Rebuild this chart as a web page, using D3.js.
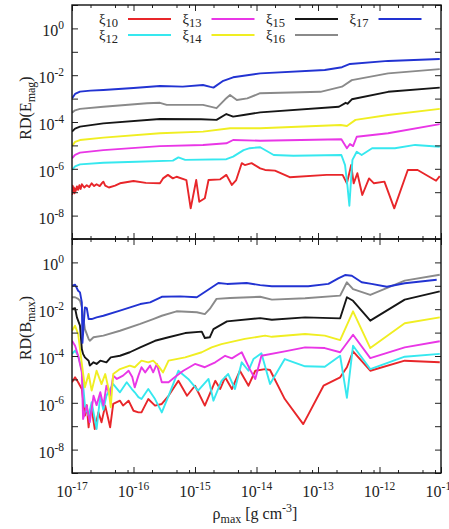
<!DOCTYPE html>
<html>
<head>
<meta charset="utf-8">
<script src="https://cdn.jsdelivr.net/npm/d3@7"></script>
<style>
  body { margin: 0; background: #fff; }
  svg { display: block; }
  text { font-family: "Liberation Serif", "DejaVu Serif", serif; fill: #222; }
</style>
</head>
<body>
<svg id="chart"></svg>
<script>
// series labels (subscript of xi) and decades used on the axes
var seriesNames = ["10", "12", "13", "14", "15", "16", "17"];
var xDecades = [-17, -16, -15, -14, -13, -12, -11];
var yDecades = [-9, -8, -7, -6, -5, -4, -3, -2, -1, 0, 1];
var yLabelDecades = [-8, -6, -4, -2, 0];
var xMinorSteps = [2, 5, 8];

// points are [log10(rho_max), log10(RD)]
// top panel: RD(E_mag)
var eMag10 = [[-17.00,-7.12],[-16.99,-6.72],[-16.98,-7.00],[-16.97,-6.80],[-16.96,-7.05],[-16.95,-6.85],[-16.94,-6.95],
  [-16.92,-6.75],[-16.90,-6.90],[-16.88,-6.70],[-16.86,-6.86],[-16.84,-6.66],[-16.80,-6.80],[-16.76,-6.70],[-16.72,-6.78],
  [-16.68,-6.62],[-16.64,-6.74],[-16.60,-6.66],[-16.55,-6.74],[-16.51,-6.60],[-16.49,-6.55],[-16.46,-6.72],[-16.40,-6.80],
  [-16.30,-6.72],[-16.22,-6.62],[-16.00,-6.52],[-15.80,-6.60],[-15.57,-6.62],[-15.52,-6.41],[-15.44,-6.26],[-15.36,-6.41],
  [-15.30,-6.34],[-15.14,-6.48],[-15.07,-7.69],[-14.98,-6.48],[-14.93,-7.41],[-14.84,-7.26],[-14.78,-6.48],[-14.59,-6.45],
  [-14.49,-6.26],[-14.40,-6.69],[-14.33,-6.48],[-14.24,-5.76],[-14.19,-5.84],[-14.08,-5.76],[-13.94,-5.98],[-13.86,-6.05],
  [-13.70,-6.08],[-13.46,-6.36],[-12.86,-6.26],[-12.60,-6.26],[-12.53,-6.62],[-12.46,-5.84],[-12.42,-6.62],[-12.36,-6.19],
  [-12.28,-7.12],[-12.17,-6.41],[-12.09,-6.62],[-11.92,-6.55],[-11.76,-7.69],[-11.54,-6.05],[-11.38,-6.05],[-11.08,-6.51],
  [-11.02,-6.31]];
var eMag12 = [[-17.00,-6.05],[-16.95,-5.90],[-16.87,-5.81],[-16.49,-5.74],[-15.95,-5.70],[-15.36,-5.65],[-15.27,-5.51],
  [-15.16,-5.62],[-14.49,-5.59],[-14.38,-5.48],[-14.21,-5.20],[-14.11,-5.12],[-13.94,-5.08],[-13.72,-5.41],[-13.40,-5.44],
  [-12.62,-5.41],[-12.56,-5.84],[-12.52,-6.76],[-12.49,-7.58],[-12.47,-6.76],[-12.44,-5.62],[-12.37,-5.27],[-12.29,-5.41],
  [-12.12,-5.12],[-11.75,-5.12],[-11.42,-4.98],[-11.02,-5.06]];
var eMag13 = [[-17.00,-5.55],[-16.95,-5.40],[-16.87,-5.31],[-16.49,-5.20],[-15.57,-5.03],[-14.87,-4.98],[-14.49,-4.91],
  [-14.38,-4.77],[-13.94,-4.80],[-12.62,-4.74],[-12.53,-5.12],[-12.48,-4.94],[-12.43,-5.03],[-12.37,-4.63],[-11.86,-4.48],
  [-11.02,-4.09]];
var eMag14 = [[-17.00,-5.03],[-16.95,-4.85],[-16.87,-4.77],[-16.49,-4.67],[-15.57,-4.48],[-14.87,-4.41],[-14.43,-4.27],
  [-13.94,-4.27],[-12.63,-4.13],[-12.53,-4.17],[-12.39,-3.91],[-11.86,-3.70],[-11.02,-3.44]];
var eMag15 = [[-17.00,-4.41],[-16.95,-4.28],[-16.87,-4.20],[-16.49,-4.06],[-15.57,-3.87],[-14.90,-3.88],[-14.65,-3.91],
  [-14.49,-3.66],[-14.38,-3.77],[-14.21,-3.70],[-13.94,-3.59],[-12.66,-3.35],[-12.55,-3.18],[-12.52,-3.22],[-12.45,-3.03],
  [-11.86,-2.71],[-11.02,-2.53]];
var eMag16 = [[-17.00,-3.60],[-16.95,-3.50],[-16.87,-3.44],[-16.49,-3.35],[-15.78,-3.20],[-15.57,-3.18],[-15.46,-3.27],
  [-14.87,-3.27],[-14.65,-3.41],[-14.51,-3.03],[-14.43,-2.85],[-14.32,-3.06],[-14.15,-2.99],[-13.94,-2.77],[-12.96,-2.71],
  [-12.61,-2.49],[-12.45,-2.21],[-11.86,-1.92],[-11.02,-1.74]];
var eMag17 = [[-17.00,-2.99],[-16.95,-2.80],[-16.87,-2.70],[-16.70,-2.66],[-16.49,-2.63],[-16.00,-2.55],[-15.57,-2.46],
  [-15.20,-2.49],[-14.87,-2.42],[-14.75,-2.50],[-14.70,-2.53],[-14.54,-2.24],[-14.38,-2.09],[-13.94,-1.92],[-12.89,-1.78],
  [-12.61,-1.66],[-12.48,-1.52],[-11.86,-1.39],[-11.02,-1.31]];

// bottom panel: RD(B_max)
var bMax10 = [[-17.00,-5.12],[-16.95,-4.91],[-16.90,-5.12],[-16.84,-5.41],[-16.79,-6.55],[-16.76,-6.10],[-16.73,-7.05],
  [-16.71,-6.50],[-16.68,-6.26],[-16.63,-7.12],[-16.57,-6.40],[-16.52,-6.83],[-16.46,-6.12],[-16.41,-6.69],[-16.38,-7.05],
  [-16.33,-6.05],[-16.22,-5.91],[-16.17,-6.12],[-16.08,-5.91],[-16.00,-6.34],[-15.92,-6.41],[-15.87,-6.41],[-15.76,-5.84],
  [-15.65,-6.12],[-15.54,-6.05],[-15.43,-5.70],[-15.27,-5.06],[-15.13,-5.70],[-15.00,-5.27],[-14.84,-6.12],[-14.67,-5.06],
  [-14.59,-5.41],[-14.51,-4.91],[-14.40,-5.41],[-14.27,-4.63],[-14.13,-5.27],[-14.02,-4.63],[-13.86,-4.56],[-13.78,-4.60],
  [-13.54,-5.84],[-13.24,-6.91],[-12.91,-5.27],[-12.64,-4.91],[-12.53,-4.48],[-12.43,-3.80],[-12.15,-4.63],[-11.59,-4.20],
  [-11.02,-4.27]];
var bMax12 = [[-17.00,-3.91],[-16.95,-3.77],[-16.90,-3.99],[-16.84,-4.60],[-16.79,-6.12],[-16.73,-6.55],[-16.68,-5.98],
  [-16.63,-6.69],[-16.60,-7.12],[-16.54,-5.70],[-16.49,-6.30],[-16.44,-5.70],[-16.38,-5.41],[-16.33,-5.20],[-16.22,-5.55],
  [-16.11,-5.12],[-16.03,-5.40],[-15.98,-5.55],[-15.92,-5.76],[-15.87,-5.84],[-15.76,-5.41],[-15.65,-5.84],[-15.54,-6.41],
  [-15.43,-5.70],[-15.27,-4.63],[-15.11,-4.98],[-14.95,-5.48],[-14.78,-4.98],[-14.70,-5.91],[-14.57,-5.06],[-14.46,-4.77],
  [-14.35,-5.41],[-14.24,-4.27],[-14.13,-4.63],[-14.05,-4.13],[-13.92,-3.88],[-13.78,-5.20],[-13.54,-4.13],[-13.21,-4.44],
  [-12.89,-4.46],[-12.64,-3.99],[-12.53,-5.79],[-12.43,-3.56],[-12.15,-4.56],[-11.59,-4.03],[-11.02,-3.91]];
var bMax13 = [[-17.00,-3.35],[-16.95,-3.56],[-16.90,-3.99],[-16.84,-4.70],[-16.82,-6.69],[-16.76,-6.12],[-16.71,-6.83],
  [-16.65,-5.70],[-16.60,-6.10],[-16.54,-5.55],[-16.49,-6.12],[-16.44,-5.27],[-16.38,-5.70],[-16.33,-4.84],[-16.27,-4.98],
  [-16.17,-4.84],[-16.08,-4.63],[-16.02,-4.90],[-15.98,-5.34],[-15.92,-4.84],[-15.87,-4.48],[-15.81,-4.70],[-15.73,-4.41],
  [-15.68,-4.70],[-15.62,-4.34],[-15.54,-5.12],[-15.43,-5.12],[-15.33,-4.91],[-15.19,-4.63],[-15.00,-4.34],[-14.84,-4.48],
  [-14.67,-4.27],[-14.51,-3.99],[-14.40,-4.10],[-14.24,-3.84],[-14.11,-4.56],[-14.02,-4.98],[-13.92,-3.99],[-13.54,-3.80],
  [-13.21,-3.63],[-12.89,-3.66],[-12.64,-3.84],[-12.43,-3.09],[-12.15,-4.09],[-11.59,-3.63],[-11.02,-3.37]];
var bMax14 = [[-17.00,-2.92],[-16.95,-2.71],[-16.90,-3.06],[-16.84,-4.34],[-16.79,-5.34],[-16.73,-4.77],[-16.68,-5.48],
  [-16.60,-4.63],[-16.52,-5.20],[-16.46,-4.77],[-16.41,-5.34],[-16.37,-6.19],[-16.33,-4.77],[-16.22,-4.56],[-16.06,-4.41],
  [-15.98,-4.48],[-15.87,-4.20],[-15.76,-4.27],[-15.68,-4.20],[-15.60,-4.41],[-15.52,-4.70],[-15.43,-4.20],[-15.16,-4.06],
  [-14.89,-3.84],[-14.73,-3.63],[-14.57,-3.49],[-14.19,-3.27],[-13.86,-3.13],[-13.75,-3.18],[-13.21,-3.06],[-12.89,-3.13],
  [-12.64,-3.32],[-12.43,-2.09],[-12.15,-3.66],[-11.59,-2.60],[-11.02,-2.35]];
var bMax15 = [[-17.00,-1.99],[-16.95,-1.96],[-16.92,-2.35],[-16.87,-2.70],[-16.84,-3.70],[-16.82,-3.91],[-16.79,-4.06],
  [-16.73,-4.20],[-16.71,-4.41],[-16.65,-4.27],[-16.60,-4.34],[-16.54,-4.20],[-16.44,-4.27],[-16.37,-4.06],[-16.22,-3.99],
  [-16.06,-3.84],[-15.89,-3.63],[-15.65,-3.35],[-15.43,-3.20],[-15.16,-3.02],[-14.89,-2.96],[-14.84,-3.23],[-14.76,-3.20],
  [-14.70,-2.85],[-14.48,-2.52],[-13.94,-2.38],[-13.75,-2.45],[-13.21,-2.35],[-12.64,-2.39],[-12.53,-1.49],[-12.43,-1.64],
  [-12.15,-2.49],[-11.59,-1.59],[-11.02,-1.24]];
var bMax16 = [[-17.00,-1.49],[-16.95,-1.49],[-16.90,-1.56],[-16.87,-1.64],[-16.84,-1.90],[-16.79,-2.85],[-16.73,-3.27],
  [-16.71,-3.35],[-16.65,-3.20],[-16.49,-3.13],[-16.22,-2.92],[-15.89,-2.63],[-15.68,-2.42],[-15.54,-2.28],[-15.30,-2.09],
  [-14.97,-2.13],[-14.84,-2.21],[-14.76,-1.99],[-14.65,-1.56],[-14.43,-1.52],[-13.94,-1.47],[-13.75,-1.59],[-13.21,-1.53],
  [-12.64,-1.42],[-12.53,-0.85],[-12.43,-1.14],[-12.15,-1.39],[-11.59,-0.78],[-11.02,-0.53]];
var bMax17 = [[-17.00,-1.00],[-16.95,-0.95],[-16.90,-1.21],[-16.87,-1.28],[-16.84,-1.71],[-16.83,-3.44],[-16.79,-1.92],
  [-16.76,-1.95],[-16.73,-2.42],[-16.68,-2.42],[-16.60,-2.35],[-16.49,-2.28],[-16.22,-2.06],[-15.89,-1.78],[-15.73,-1.71],
  [-15.54,-1.47],[-15.24,-1.45],[-14.97,-1.49],[-14.81,-1.21],[-14.62,-0.88],[-14.48,-0.92],[-14.16,-0.88],[-13.94,-0.97],
  [-13.75,-1.02],[-13.16,-1.02],[-12.83,-0.92],[-12.67,-0.68],[-12.56,-0.54],[-12.45,-0.57],[-12.29,-0.85],[-12.13,-0.92],
  [-11.88,-1.04],[-11.59,-0.89],[-11.07,-0.74]];

var eMagSeries = [eMag10, eMag12, eMag13, eMag14, eMag15, eMag16, eMag17];
var bMaxSeries = [bMax10, bMax12, bMax13, bMax14, bMax15, bMax16, bMax17];
var lineColors = ["#e8262a", "#36e8ef", "#e936e6", "#f0ee22", "#161616", "#8a8a8a", "#2233d2"];

var margin = { top: 5, right: 8, bottom: 56, left: 72 };
var width = 369, panelHeight = 234;
var fullWidth = 449, fullHeight = 529;

var svg = d3.select("#chart")
  .attr("width", fullWidth)
  .attr("height", fullHeight);

var x = d3.scaleLog().domain([1e-17, 1e-11]).range([0, width]);

var pow10 = p => Math.pow(10, p);
var xMinor = [];
xDecades.slice(0, -1).forEach(function(p) {
  xMinorSteps.forEach(function(s) { xMinor.push(s * pow10(p)); });
});

function drawPanel(offsetY, seriesList, clipId, isBottom) {
  var g = svg.append("g")
    .attr("transform", "translate(" + margin.left + "," + offsetY + ")");

  var y = d3.scaleLog().domain([1e-9, 1e1]).range([panelHeight, 0]);

  g.append("clipPath").attr("id", clipId)
    .append("rect").attr("width", width).attr("height", panelHeight);

  var line = d3.line()
    .x(d => x(pow10(d[0])))
    .y(d => y(pow10(d[1])));

  // curves
  g.append("g")
      .attr("clip-path", "url(#" + clipId + ")")
    .selectAll("path").data(seriesList).enter().append("path")
      .attr("d", d => line(d))
      .attr("fill", "none")
      .attr("stroke", (d, i) => lineColors[i])
      .attr("stroke-width", 1.9)
      .attr("stroke-linejoin", "round");

  // inward ticks, all four sides
  function tickAxis(axis) {
    return function(sel) {
      sel.call(axis);
      sel.select(".domain").remove();
      sel.selectAll("line").attr("stroke", "#222");
    };
  }
  var xVals = xDecades.map(pow10);
  g.append("g").attr("transform", "translate(0," + panelHeight + ")")
    .call(tickAxis(d3.axisTop(x).tickValues(xVals).tickSize(6).tickFormat("")));
  g.append("g").attr("transform", "translate(0," + panelHeight + ")")
    .call(tickAxis(d3.axisTop(x).tickValues(xMinor).tickSize(3).tickFormat("")));
  g.append("g")
    .call(tickAxis(d3.axisBottom(x).tickValues(xVals).tickSize(6).tickFormat("")));
  g.append("g")
    .call(tickAxis(d3.axisBottom(x).tickValues(xMinor).tickSize(3).tickFormat("")));

  var yVals = yDecades.map(pow10);
  g.append("g")
    .call(tickAxis(d3.axisRight(y).tickValues(yVals).tickSize(6).tickFormat("")));
  g.append("g").attr("transform", "translate(" + width + ",0)")
    .call(tickAxis(d3.axisLeft(y).tickValues(yVals).tickSize(6).tickFormat("")));

  // frame
  g.append("rect")
    .attr("width", width)
    .attr("height", panelHeight)
    .attr("fill", "none")
    .attr("stroke", "#111")
    .attr("stroke-width", 1.4);

  // y tick labels
  var yLab = g.append("g").selectAll("text").data(yLabelDecades).enter().append("text")
    .attr("x", -8)
    .attr("y", d => y(pow10(d)) + 8)
    .attr("text-anchor", "end")
    .attr("font-size", 16);
  yLab.append("tspan").text("10");
  yLab.append("tspan").attr("dy", -7).attr("font-size", 11.5).text(d => d);

  if (isBottom) {
    var xLab = g.append("g").selectAll("text").data(xDecades).enter().append("text")
      .attr("x", d => x(pow10(d)))
      .attr("y", panelHeight + 24)
      .attr("text-anchor", "middle")
      .attr("font-size", 16);
    xLab.append("tspan").text("10");
    xLab.append("tspan").attr("dy", -7).attr("font-size", 11.5).text(d => d);
  }
  return g;
}

var topPanel = drawPanel(margin.top, eMagSeries, "clipTop", false);
var bottomPanel = drawPanel(margin.top + panelHeight, bMaxSeries, "clipBottom", true);

// axis titles
function yTitle(cy, main, sub) {
  var t = svg.append("text")
    .attr("transform", "translate(31," + cy + ") rotate(-90)")
    .attr("text-anchor", "middle")
    .attr("font-size", 16);
  t.append("tspan").text(main);
  t.append("tspan").attr("dy", 4).attr("font-size", 12).text(sub);
  t.append("tspan").attr("dy", -4).text(")");
}
yTitle(108, "RD(E", "mag");
yTitle(328, "RD(B", "max");

var xt = svg.append("text")
  .attr("x", 255)
  .attr("y", 519)
  .attr("text-anchor", "middle")
  .attr("font-size", 16);
xt.append("tspan").text("\u03c1");
xt.append("tspan").attr("dy", 4).attr("font-size", 12).text("max");
xt.append("tspan").attr("dy", -4).text(" [g cm");
xt.append("tspan").attr("dy", -7).attr("font-size", 12).text("-3");
xt.append("tspan").attr("dy", 7).text("]");

// legend: two rows, filled column by column
var legend = svg.append("g").selectAll("g").data(seriesNames).enter().append("g")
  .attr("transform", (d, i) => "translate(" + (118 + Math.floor(i / 2) * 83.5) + "," + (19 + (i % 2) * 16) + ")");
var legText = legend.append("text")
  .attr("x", 0)
  .attr("y", 4.5)
  .attr("text-anchor", "end")
  .attr("font-size", 14.5);
legText.append("tspan").text("\u03be");
legText.append("tspan").attr("dy", 3).attr("font-size", 12.5).text(d => d);
legend.append("line")
  .attr("x1", 10).attr("x2", 53)
  .attr("y1", 0).attr("y2", 0)
  .attr("stroke", (d, i) => lineColors[i])
  .attr("stroke-width", 1.9);
</script>
</body>
</html>
